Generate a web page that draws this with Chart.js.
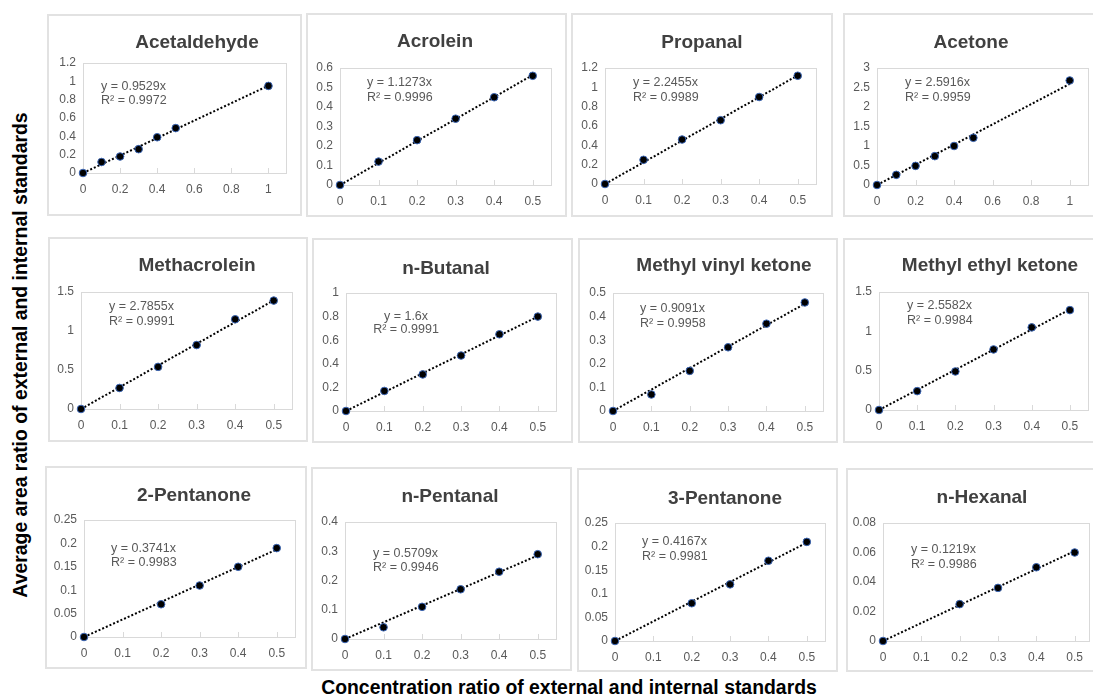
<!DOCTYPE html>
<html>
<head>
<meta charset="utf-8">
<script src="https://cdn.jsdelivr.net/npm/chart.js@4.4.0/dist/chart.umd.min.js"></script>
<style>
  html, body { margin: 0; padding: 0; background: #fff; overflow: hidden; }
  body { width: 1093px; height: 698px; position: relative; font-family: "Liberation Sans", Arial, sans-serif; }
  .panel { position: absolute; border: 2px solid #e2e2e2; box-sizing: border-box; }
  canvas { position: absolute; }
  .axis-title { position: absolute; font-weight: bold; font-size: 19.4px; color: #000; white-space: nowrap; line-height: 1; }
</style>
</head>
<body>
<div class="axis-title" style="left:20.5px; top:355px; transform: translate(-50%, -50%) rotate(-90deg);">Average area ratio of external and internal standards</div>
<div class="axis-title" style="left:569px; top:688px; transform: translate(-50%, -50%);">Concentration ratio of external and internal standards</div>

<script>
// donnees
const compounds = ["Acetaldehyde", "Acrolein", "Propanal", "Acetone",
  "Methacrolein", "n-Butanal", "Methyl vinyl ketone", "Methyl ethyl ketone",
  "2-Pentanone", "n-Pentanal", "3-Pentanone", "n-Hexanal"];
const slopes = [0.9529, 1.1273, 2.2455, 2.5916, 2.7855, 1.6, 0.9091, 2.5582, 0.3741, 0.5709, 0.4167, 0.1219];
const rSquared = ["0.9972", "0.9996", "0.9989", "0.9959", "0.9991", "0.9991", "0.9958", "0.9984", "0.9983", "0.9946", "0.9981", "0.9986"];

const concFull = [0, 0.1, 0.2, 0.3, 0.4, 0.5, 1];
const concHalf = [0, 0.1, 0.2, 0.3, 0.4, 0.5];
const concNoTenth = [0, 0.2, 0.3, 0.4, 0.5];

const acetaldehyde = [0, 0.12, 0.18, 0.26, 0.39, 0.49, 0.95];
const acrolein = [0, 0.12, 0.23, 0.34, 0.45, 0.56];
const propanal = [0, 0.25, 0.46, 0.66, 0.9, 1.12];
const acetone = [0, 0.26, 0.49, 0.74, 1.0, 1.21, 2.68];
const methacrolein = [0, 0.27, 0.54, 0.82, 1.15, 1.39];
const nButanal = [0, 0.17, 0.31, 0.47, 0.65, 0.8];
const methylVinylKetone = [0, 0.07, 0.17, 0.27, 0.37, 0.46];
const methylEthylKetone = [0, 0.24, 0.49, 0.77, 1.05, 1.27];
const pentanone2 = [0, 0.07, 0.11, 0.15, 0.19];
const nPentanal = [0, 0.04, 0.11, 0.17, 0.23, 0.29];
const pentanone3 = [0, 0.08, 0.12, 0.17, 0.21];
const nHexanal = [0, 0.025, 0.036, 0.05, 0.06];

const xTicksFull = [0, 0.2, 0.4, 0.6, 0.8, 1];
const xTicksHalf = [0, 0.1, 0.2, 0.3, 0.4, 0.5];
const yTicks12 = [0, 0.2, 0.4, 0.6, 0.8, 1, 1.2];
const yTicks06 = [0, 0.1, 0.2, 0.3, 0.4, 0.5, 0.6];
const yTicks3 = [0, 0.5, 1, 1.5, 2, 2.5, 3];
const yTicks15 = [0, 0.5, 1, 1.5];
const yTicks1 = [0, 0.2, 0.4, 0.6, 0.8, 1];
const yTicks05 = [0, 0.1, 0.2, 0.3, 0.4, 0.5];
const yTicks025 = [0, 0.05, 0.1, 0.15, 0.2, 0.25];
const yTicks04 = [0, 0.1, 0.2, 0.3, 0.4];
const yTicks008 = [0, 0.02, 0.04, 0.06, 0.08];

const xSeries = [concFull, concHalf, concHalf, concFull, concHalf, concHalf, concHalf, concHalf, concNoTenth, concHalf, concNoTenth, concNoTenth];
const ySeries = [acetaldehyde, acrolein, propanal, acetone, methacrolein, nButanal, methylVinylKetone, methylEthylKetone, pentanone2, nPentanal, pentanone3, nHexanal];
const xTickSets = [xTicksFull, xTicksHalf, xTicksHalf, xTicksFull, xTicksHalf, xTicksHalf, xTicksHalf, xTicksHalf, xTicksHalf, xTicksHalf, xTicksHalf, xTicksHalf];
const yTickSets = [yTicks12, yTicks06, yTicks12, yTicks3, yTicks15, yTicks1, yTicks05, yTicks15, yTicks025, yTicks04, yTicks025, yTicks008];

// mise en page (pixels de la page)
const xMaxes = [1.1, 0.55, 0.55, 1.1, 0.55, 0.55, 0.55, 0.55, 0.55, 0.55, 0.55, 0.54];
const boxes = [[47,14,302,216],[306,13,567,217],[571,13,833,217],[843,13,1100,217],
  [48,237,308,442],[312,238,573,443],[578,238,838,443],[843,238,1100,443],
  [45,466,307,669],[311,467,572,671],[577,468,838,672],[846,468,1100,672]];
const plots = [[83,63,287,173],[340,68,552,185],[605,68,817,184],[877,68,1089,185],
  [81,292,293,409],[346,293,557,411],[613,293,824,411],[879,292,1089,410],
  [84,520,296,637],[345,522,557,639],[615,523,826,641],[883,523,1090,641]];
const titlePos = [[197,43],[435,42],[702,43],[971,43],[197,266],[446,269],[724,266],[990,266],[194,496],[450,497],[725,499],[982,498]];
const notePos = [[101,87,101],[367,83,98],[633,83,98],[905,83,98],[109,307,322],[406,317,330],[640,309,324],[907,306,321],[111,549,563],[373,554,568],[642,542,557],[911,550,565]];
const noteAlign = ["left","left","left","left","left","center","left","left","left","left","left","left"];

const FONT = '"Liberation Sans", Arial, sans-serif';

function makeDecor(i) {
  const b = boxes[i];
  return {
    id: 'decor' + i,
    beforeDatasetsDraw(chart) {
      const a = chart.chartArea, ctx = chart.ctx;
      ctx.save();
      ctx.strokeStyle = '#d9d9d9';
      ctx.lineWidth = 1;
      ctx.strokeRect(a.left + 0.5, a.top + 0.5, a.right - a.left - 1, a.bottom - a.top);
      ctx.beginPath();
      const xs = chart.scales.x;
      xs.ticks.forEach(function (t) {
        const px = Math.round(xs.getPixelForValue(t.value)) + 0.5;
        ctx.moveTo(px, a.bottom);
        ctx.lineTo(px, a.bottom - 5);
      });
      ctx.stroke();
      ctx.restore();
    },
    afterDraw(chart) {
      const ctx = chart.ctx;
      ctx.save();
      ctx.fillStyle = '#404040';
      ctx.font = 'bold 19px ' + FONT;
      ctx.textAlign = 'center';
      ctx.textBaseline = 'middle';
      ctx.fillText(compounds[i], titlePos[i][0] - b[0], titlePos[i][1] - b[1]);
      ctx.fillStyle = '#595959';
      ctx.font = '12.5px ' + FONT;
      ctx.textAlign = noteAlign[i];
      const nx = notePos[i][0] - b[0];
      ctx.fillText('y = ' + slopes[i] + 'x', nx, notePos[i][1] - b[1]);
      ctx.fillText('R\u00B2 = ' + rSquared[i], nx, notePos[i][2] - b[1]);
      ctx.restore();
    }
  };
}

compounds.forEach(function (name, i) {
  const b = boxes[i], p = plots[i];
  const w = b[2] - b[0], h = b[3] - b[1];

  const div = document.createElement('div');
  div.className = 'panel';
  div.style.left = b[0] + 'px'; div.style.top = b[1] + 'px';
  div.style.width = w + 'px'; div.style.height = h + 'px';
  document.body.appendChild(div);

  const cv = document.createElement('canvas');
  cv.width = w; cv.height = h;
  cv.style.left = b[0] + 'px'; cv.style.top = b[1] + 'px';
  cv.style.width = w + 'px'; cv.style.height = h + 'px';
  document.body.appendChild(cv);

  const xs = xSeries[i], ys = ySeries[i];
  const pts = xs.map(function (x, k) { return { x: x, y: ys[k] }; });
  const xLast = xs[xs.length - 1];
  const trend = [{ x: 0, y: 0 }, { x: xLast, y: slopes[i] * xLast }];
  const xt = xTickSets[i], yt = yTickSets[i];

  new Chart(cv.getContext('2d'), {
    type: 'scatter',
    data: {
      datasets: [
        {
          data: pts,
          pointRadius: 3.8,
          pointBackgroundColor: '#000',
          pointBorderColor: '#3b66b5',
          pointBorderWidth: 1,
          showLine: false,
          clip: false
        },
        {
          data: trend,
          showLine: true,
          borderColor: '#000',
          borderWidth: 2,
          borderDash: [2, 2],
          pointRadius: 0,
          clip: false
        }
      ]
    },
    options: {
      responsive: false,
      animation: false,
      events: [],
      layout: { padding: { left: 0, top: p[1] - b[1], right: b[2] - p[2], bottom: 0 } },
      plugins: { legend: { display: false }, tooltip: { enabled: false } },
      scales: {
        x: {
          type: 'linear', min: 0, max: xMaxes[i],
          grid: { display: false, drawTicks: false }, border: { display: false },
          afterBuildTicks: function (s) { s.ticks = xt.map(function (v) { return { value: v }; }); },
          afterFit: function (s) { s.height = b[3] - p[3]; },
          ticks: { padding: 9, color: '#595959', font: { size: 12, family: FONT }, maxRotation: 0,
            callback: function (v) { return String(v); } }
        },
        y: {
          type: 'linear', min: 0, max: yt[yt.length - 1],
          grid: { display: false, drawTicks: false }, border: { display: false },
          afterBuildTicks: function (s) { s.ticks = yt.map(function (v) { return { value: v }; }); },
          afterFit: function (s) { s.width = p[0] - b[0]; },
          ticks: { padding: 7, color: '#595959', font: { size: 12, family: FONT },
            callback: function (v) { return String(v); } }
        }
      }
    },
    plugins: [makeDecor(i)]
  });
});
</script>
</body>
</html>
